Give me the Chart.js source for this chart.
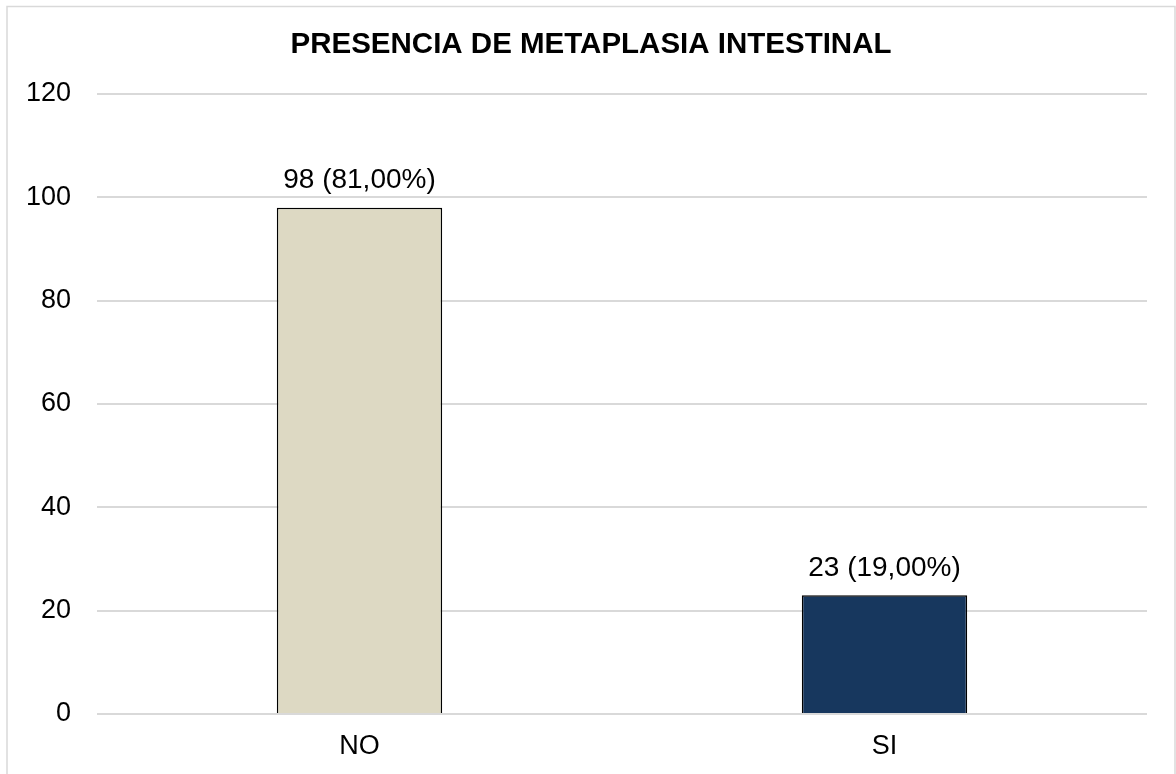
<!DOCTYPE html>
<html>
<head>
<meta charset="utf-8">
<script src="https://cdn.jsdelivr.net/npm/chart.js@4.4.0/dist/chart.umd.min.js"></script>
<style>
  html, body { margin: 0; padding: 0; background: #ffffff; }
  #wrap { width: 1176px; height: 774px; }
</style>
</head>
<body>
<div id="wrap"><canvas id="c" width="1176" height="774"></canvas></div>
<script>
const chartTitle = "PRESENCIA DE METAPLASIA INTESTINAL";
const categories = ["NO", "SI"];
const counts = [98, 23];
const percents = [81.00, 19.00];
const barColors = ["#DDD9C3", "#17375E"];
const yTicks = [0, 20, 40, 60, 80, 100, 120];

const FONT = "'Liberation Sans', Arial, sans-serif";

const frame = {
  id: 'frame',
  beforeDraw(chart) {
    const ctx = chart.ctx;
    ctx.save();
    ctx.fillStyle = '#ffffff';
    ctx.fillRect(0, 0, chart.width, chart.height);
    ctx.strokeStyle = '#d9d9d9';
    ctx.lineWidth = 1.5;
    ctx.strokeRect(7, 6.5, 1168, 800);
    ctx.restore();
  },
  afterDraw(chart) {
    const ctx = chart.ctx;
    ctx.save();
    ctx.fillStyle = '#000000';
    ctx.font = "bold 29.5px " + FONT;
    ctx.textAlign = 'center';
    ctx.textBaseline = 'middle';
    ctx.fillText(chartTitle, 591, 45);
    const meta = chart.getDatasetMeta(0);
    ctx.font = "28px " + FONT;
    meta.data.forEach((bar, i) => {
      const txt = counts[i] + " (" + percents[i].toFixed(2).replace('.', ',') + "%)";
      ctx.fillText(txt, bar.x, bar.y - 27);
    });
    ctx.restore();
  }
};

new Chart(document.getElementById('c'), {
  type: 'bar',
  data: {
    labels: categories,
    datasets: [{
      data: counts,
      backgroundColor: barColors,
      borderColor: '#000000',
      borderWidth: 1.5,
      categoryPercentage: 1.0,
      barPercentage: 0.315
    }]
  },
  options: {
    responsive: false,
    animation: false,
    devicePixelRatio: 1,
    layout: { padding: { top: 94, right: 29, bottom: 0, left: 0 } },
    plugins: {
      legend: { display: false },
      title: { display: false },
      tooltip: { enabled: false }
    },
    scales: {
      y: {
        min: 0,
        max: 120,
        afterBuildTicks(axis) { axis.ticks = yTicks.map(v => ({ value: v })); },
        afterFit(axis) { axis.width = 97; },
        ticks: {
          color: '#000000',
          padding: 26,
          font: { family: FONT, size: 27 }
        },
        grid: { color: '#d9d9d9', lineWidth: 2, drawTicks: false },
        border: { display: false }
      },
      x: {
        afterFit(axis) { axis.height = 60; },
        ticks: {
          color: '#000000',
          padding: 16,
          font: { family: FONT, size: 27 }
        },
        grid: { display: false, drawTicks: false },
        border: { display: false }
      }
    }
  },
  plugins: [frame]
});
</script>
</body>
</html>
